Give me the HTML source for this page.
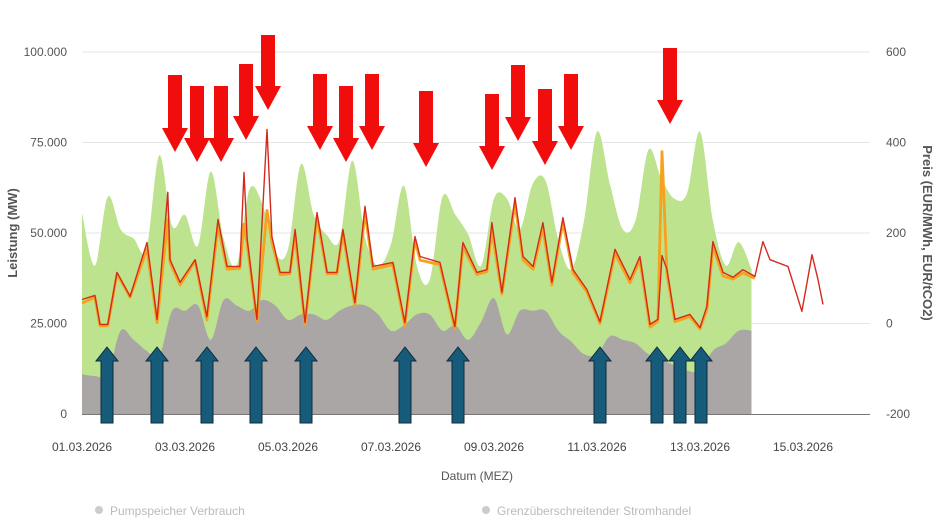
<!DOCTYPE html>
<html><head><meta charset="utf-8"><style>
html,body{margin:0;padding:0;background:#fff;width:943px;height:530px;overflow:hidden}
svg text{font-family:"Liberation Sans",sans-serif}
</style></head><body>
<svg id="chart" width="943" height="530" viewBox="0 0 943 530" xmlns="http://www.w3.org/2000/svg">
<g id="grid"></g>
<g id="areas"></g>
<g id="lines"></g>
<g id="axes"></g>
<g id="arrows"></g>
<text transform="translate(17,233) rotate(-90)" text-anchor="middle" font-size="13" font-weight="bold" fill="#555">Leistung (MW)</text>
<text transform="translate(923,233) rotate(90)" text-anchor="middle" font-size="13" font-weight="bold" fill="#555">Preis (EUR/MWh, EUR/tCO2)</text>
<text x="477" y="480" text-anchor="middle" font-size="12" fill="#555">Datum (MEZ)</text>
<g><circle cx="99" cy="510" r="4" fill="#ccc"/><text x="110" y="515" font-size="12" fill="#bbb">Pumpspeicher Verbrauch</text></g>
<g><circle cx="486" cy="510" r="4" fill="#ccc"/><text x="497" y="515" font-size="12" fill="#bbb">Grenzüberschreitender Stromhandel</text></g>
</svg>
<script>
// hours since 01.03.2026 00:00
const areaHours=[0,6,12,18,24,30,36,42,48,54,60,66,72,78,84,90,96,102,108,114,120,126,132,138,144,150,156,162,168,174,180,186,192,198,204,210,216,222,228,234,240,246,252,258,264,270,276,282,288,294,300,306,312];
const greenTop=[55500,41000,60000,51000,48500,45500,71500,52000,55000,46500,67000,48500,41000,62000,58000,44500,45500,69000,55000,49500,48000,70000,48500,41000,47000,63000,41000,37000,60000,55000,49500,41000,59500,59500,51000,63500,64500,48000,40000,53500,78000,63500,51000,53500,73000,65000,59500,61000,78000,53500,41000,47500,40000];
const grayTop=[11000,10500,11000,23000,20500,17500,16000,28500,28500,30000,20500,31500,30000,28500,31500,30000,26000,27500,27500,26000,28500,30000,30000,27500,23000,24500,27500,27500,23000,24500,20500,25500,32000,22000,28500,28500,28500,23000,20000,16500,16500,21500,20500,19500,16500,15000,13500,12000,12000,17500,19500,23000,23000];
const priceHours=[0,6,8.4,12,16.3,22.4,30.3,35,40,41,45.7,52.7,58.2,63.4,67.6,73.6,75.5,77,81.5,86.2,88.5,92.3,96.9,99.3,103.9,109.5,114.2,118.8,121.6,127.2,131.9,135.6,144.9,150.5,155.2,157.5,166.8,173.8,177.5,184.1,188.7,191,195.7,201.8,205.5,210.2,214.8,219,224.1,228.8,235.3,241.4,248.4,255.4,260,264.7,268.4,270.3,272.6,276.3,283.3,288,291.2,294,298.7,303.4,308,313.6,317.3,320.6,329,335.5,340.2,343,345.3];
const priceDayAhead=[53,62,-2,-2,113,60,179,9,290,141,91,141,15,230,126,126,334,186,9,429,192,113,113,208,2,245,113,113,208,46,259,126,135,2,192,148,135,-7,179,113,119,223,69,278,148,126,223,91,234,119,75,4,164,97,148,-2,9,150,119,9,20,-9,38,181,113,102,119,104,181,141,126,27,152,97,42];
const priceIntraday=[45,58,-5,-5,110,58,165,2,230,135,85,138,8,215,120,122,220,175,5,250,180,108,110,195,-2,235,110,110,200,40,245,120,130,-5,185,140,130,-12,170,108,115,205,65,265,140,120,210,85,225,112,70,0,155,90,140,-8,5,380,110,4,15,-12,30,170,105,98,112,100];
const leftTicks=["0","25.000","50.000","75.000","100.000"];
const leftTickVals=[0,25000,50000,75000,100000];
const rightTickVals=[-200,0,200,400,600];
const dateLabels=["01.03.2026","03.03.2026","05.03.2026","07.03.2026","09.03.2026","11.03.2026","13.03.2026","15.03.2026"];
const dateHours=[0,48,96,144,192,240,288,336];

const NS="http://www.w3.org/2000/svg";
const X0=82,X1=870,Y0=414,Ytop=52;
const xH=h=>X0+h*51.5/24;
const yMW=v=>Y0-(v/100000)*(Y0-Ytop);
const yP=p=>Y0-((p+200)/800)*(Y0-Ytop);
function mk(tag,attrs,parent){const e=document.createElementNS(NS,tag);for(const k in attrs)e.setAttribute(k,attrs[k]);parent.appendChild(e);return e;}

const grid=document.getElementById('grid'),axes=document.getElementById('axes');
leftTickVals.forEach((v,i)=>{
  const y=yMW(v);
  if(v>0){const l=mk('line',{x1:X0,x2:X1,y1:y,y2:y,stroke:'#e6e6e6','stroke-width':1},grid);
  
  }
  const t=mk('text',{x:67,y:y+4,'text-anchor':'end','font-size':12,fill:'#555'},axes);t.textContent=leftTicks[i];
  
  
});
rightTickVals.forEach(v=>{
  const t=mk('text',{x:886,y:yP(v)+4,'font-size':12,fill:'#555'},axes);t.textContent=String(v);
  
  
});
dateLabels.forEach((d,i)=>{
  const t=mk('text',{x:xH(dateHours[i]),y:451,'text-anchor':'middle','font-size':12,fill:'#444'},axes);t.textContent=d;
  
  
});
const base=mk('line',{x1:X0,x2:X1,y1:Y0+0.5,y2:Y0+0.5,stroke:'#777','stroke-width':1},axes);



const areas=document.getElementById('areas');
function smoothPath(pts){
  let d='L'+pts[0][0].toFixed(1)+','+pts[0][1].toFixed(1);
  for(let i=0;i<pts.length-1;i++){
    const p0=pts[i-1]||pts[i],p1=pts[i],p2=pts[i+1],p3=pts[i+2]||p2;
    const c1x=p1[0]+(p2[0]-p0[0])/6,c1y=p1[1]+(p2[1]-p0[1])/6;
    const c2x=p2[0]-(p3[0]-p1[0])/6,c2y=p2[1]-(p3[1]-p1[1])/6;
    d+=' C'+c1x.toFixed(1)+','+c1y.toFixed(1)+' '+c2x.toFixed(1)+','+c2y.toFixed(1)+' '+p2[0].toFixed(1)+','+p2[1].toFixed(1);
  }
  return d;
}
function areaPath(vals){
  const pts=areaHours.map((h,i)=>[xH(h),yMW(vals[i])]);
  return 'M'+xH(areaHours[0])+','+Y0+' '+smoothPath(pts)+' L'+xH(areaHours[areaHours.length-1])+','+Y0+' Z';
}
const g=mk('path',{d:areaPath(greenTop),fill:'#bde38f'},areas);


const gr=mk('path',{d:areaPath(grayTop),fill:'#aba6a6'},areas);



const lines=document.getElementById('lines');
function linePath(vals){let d='';vals.forEach((v,i)=>{d+=(i?' L':'M')+xH(priceHours[i]).toFixed(1)+','+yP(v).toFixed(1);});return d;}
const o=mk('path',{d:linePath(priceIntraday),fill:'none',stroke:'#f5a21e','stroke-width':2.8,'stroke-linejoin':'round'},lines);


const r=mk('path',{d:linePath(priceDayAhead),fill:'none',stroke:'#d42a1e','stroke-width':1.4,'stroke-linejoin':'round'},lines);



const arrows=document.getElementById('arrows');
const redArrows=[[175,75,152],[197,86,162],[221,86,162],[246,64,140],[268,35,110],[320,74,150],[346,86,162],[372,74,150],[426,91,167],[492,94,170],[518,65,141],[545,89,165],[571,74,150],[670,48,124]];
redArrows.forEach(([x,t,b])=>{
  const p=mk('polygon',{points:`${x-7},${t} ${x+7},${t} ${x+7},${b-24} ${x+13},${b-24} ${x},${b} ${x-13},${b-24} ${x-7},${b-24}`,fill:'#f20d0d'},arrows);
  
  
});
const blueX=[107,157,207,256,306,405,458,600,657,680,701];
blueX.forEach(x=>{
  const t=347,b=423;
  const p=mk('polygon',{points:`${x-6},${b} ${x+6},${b} ${x+6},${t+14} ${x+11},${t+14} ${x},${t} ${x-11},${t+14} ${x-6},${t+14}`,fill:'#175b7a',stroke:'#0c2b3a','stroke-width':1},arrows);
  
  
});
</script>
</body></html>
